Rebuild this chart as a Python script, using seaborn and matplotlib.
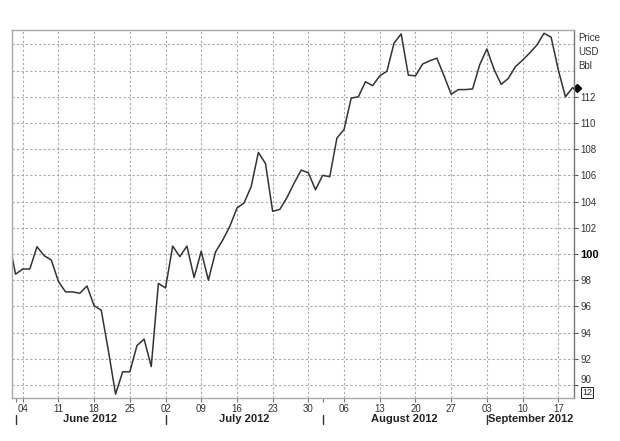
import numpy as np
import pandas as pd
import matplotlib
matplotlib.use("Agg")
import matplotlib.pyplot as plt
import matplotlib.transforms as mtransforms
import seaborn as sns

# Brent crude, trading days 31 May 2012 - 19 Sep 2012 (USD/bbl)
dates = pd.bdate_range("2012-05-31", "2012-09-19")
prices = [
    101.2,                                             # May 31
    98.45, 98.85, 98.85, 100.55, 99.87, 99.54,         # Jun 1-8
    97.9, 97.1, 97.1, 97.0, 97.55,                     # Jun 11-15
    96.05, 95.7, 92.6, 89.3, 91.0,                     # Jun 18-22
    91.0, 93.0, 93.5, 91.4, 97.75,                     # Jun 25-29
    97.4, 100.6, 99.8, 100.6, 98.2,                    # Jul 2-6
    100.2, 98.0, 100.15, 101.05, 102.1,                # Jul 9-13
    103.5, 103.9, 105.15, 107.75, 106.9,               # Jul 16-20
    103.25, 103.4, 104.3, 105.4, 106.4,                # Jul 23-27
    106.2, 104.9, 106.0, 105.9, 108.85,                # Jul 30 - Aug 3
    109.5, 111.9, 112.0, 113.15, 112.85,               # Aug 6-10
    113.6, 113.95, 116.1, 116.8, 113.65,               # Aug 13-17
    113.6, 114.5, 114.75, 114.95, 113.6,               # Aug 20-24
    112.2, 112.55, 112.55, 112.6, 114.45,              # Aug 27-31
    115.65, 114.1, 112.95, 113.4, 114.3,               # Sep 3-7
    114.8, 115.35, 115.95, 116.85, 116.55,             # Sep 10-14
    114.05, 112.0, 112.7,                              # Sep 17-19
]
week_labels = ["04", "11", "18", "25", "02", "09", "16", "23", "30",
               "06", "13", "20", "27", "03", "10", "17"]
month_labels = ["June 2012", "July 2012", "August 2012", "September 2012"]
y_ticks = list(range(90, 117, 2))
unit_lines = ["Price", "USD", "Bbl"]

df = pd.DataFrame({"date": dates, "price": prices})
df["idx"] = np.arange(len(df))

sns.set_style("white")
plt.rcParams["font.family"] = ["Liberation Sans", "DejaVu Sans"]

fig = plt.figure(figsize=(6.2, 4.41), dpi=100)
ax = fig.add_axes([12 / 620, 1 - 398 / 441, 562 / 620, 368 / 441])

sns.lineplot(data=df, x="idx", y="price", ax=ax, color="#333333", linewidth=1.1)

x_right = len(df) - 1 + 0.2
ax.set_xlim(0.5, x_right)
ax.set_ylim(89.0, 117.1)
ax.set_xlabel("")
ax.set_ylabel("")

# weekly ticks on Mondays
mondays = df.loc[df["date"].dt.weekday == 0, "idx"].tolist()
ax.set_xticks(mondays)
ax.set_xticklabels(week_labels, fontsize=7, color="#333333")
# month starts as minor ticks
month_first = df.groupby(df["date"].dt.month)["idx"].min().tolist()[1:]
ax.set_xticks(month_first, minor=True)
ax.tick_params(axis="x", which="both", direction="out", length=3, width=0.8,
               color="#777777", pad=1.5, bottom=True)

# price axis on the right
ax.yaxis.tick_right()
ax.set_yticks(y_ticks)
ax.set_yticklabels([str(v) if v <= 112 else "" for v in y_ticks],
                   fontsize=7, color="#333333")
ax.tick_params(axis="y", direction="out", length=3, width=0.8,
               color="#555555", pad=1.5, right=True, left=False)
for t, v in zip(ax.yaxis.get_major_ticks(), y_ticks):
    if v > 112:
        t.tick2line.set_visible(False)
    if v == 100:
        t.label2.set_fontweight("bold")
        t.label2.set_fontsize(8)
        t.label2.set_color("black")
    if v == 90:
        t.label2.set_va("bottom")

ax.grid(True, which="major", color="#a8a8a8", linestyle=(0, (2, 2)), linewidth=0.8)
for side in ["left", "top", "bottom", "right"]:
    ax.spines[side].set_visible(True)
    ax.spines[side].set_color("#a8a8a8")
    ax.spines[side].set_linewidth(1.0)
ax.spines["right"].set_color("#777777")

# month separators and labels below the axis
trans_x = mtransforms.blended_transform_factory(ax.transData, ax.transAxes)
bounds = month_first + [x_right]
for i, name in enumerate(month_labels):
    ax.plot([bounds[i], bounds[i]], [-0.046, -0.072], transform=trans_x,
            color="#333333", linewidth=1.0, clip_on=False)
    ax.text((bounds[i] + bounds[i + 1]) / 2, -0.058, name, transform=trans_x,
            ha="center", va="center", fontsize=8, fontweight="bold", color="#222222")

# unit caption, last-price marker and scale box on the right
for i, s in enumerate(unit_lines):
    ax.text(1.007, 0.978 - i * 0.038, s, transform=ax.transAxes,
            ha="left", va="center", fontsize=7, color="#333333")
trans_y = mtransforms.blended_transform_factory(ax.transAxes, ax.transData)
ax.plot([1.005], [prices[-1]], transform=trans_y, marker="D", markersize=4,
        color="black", clip_on=False)
ax.text(1.023, 0.014, "12", transform=ax.transAxes, ha="center", va="center",
        fontsize=6.5, color="#222222",
        bbox=dict(boxstyle="square,pad=0.12", fc="white", ec="#222222", lw=0.7))

fig.savefig("out.png", dpi=100, facecolor="white")
